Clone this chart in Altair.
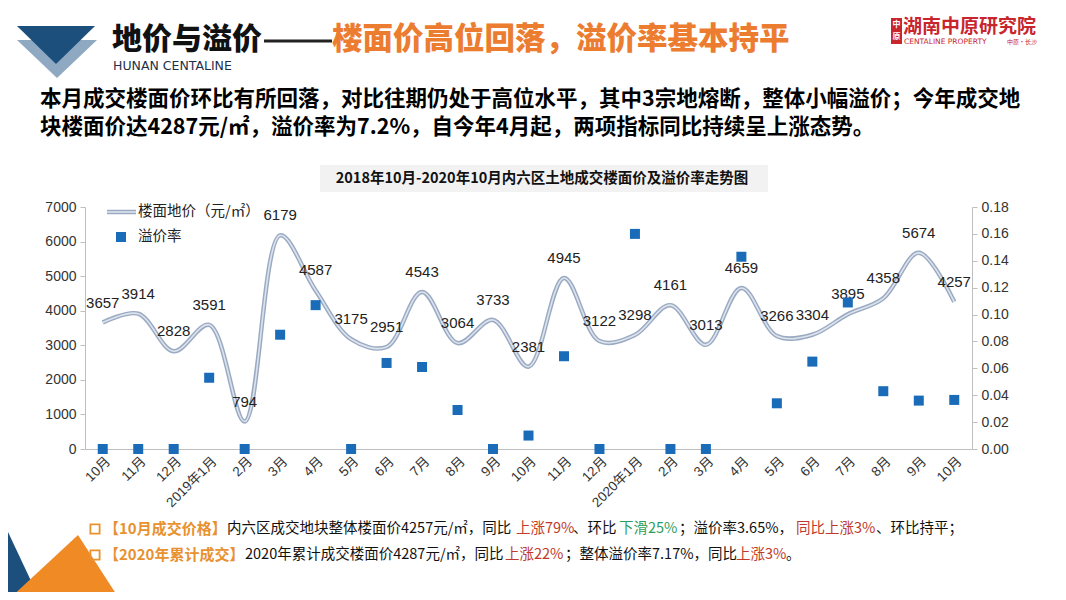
import altair as alt
import pandas as pd

# ---------------- data ----------------
months = ["10月", "11月", "12月", "2019年1月", "2月", "3月", "4月", "5月", "6月", "7月",
          "8月", "9月", "10月", "11月", "12月", "2020年1月", "2月", "3月", "4月", "5月",
          "6月", "7月", "8月", "9月", "10月"]
price = [3657, 3914, 2828, 3591, 794, 6179, 4587, 3175, 2951, 4543, 3064, 3733, 2381,
         4945, 3122, 3298, 4161, 3013, 4659, 3266, 3304, 3895, 4358, 5674, 4257]
premium = [0, 0, 0, 0.053, 0, 0.085, 0.107, 0, 0.064, 0.061, 0.029, 0, 0.010,
           0.069, 0, 0.160, 0, 0, 0.143, 0.034, 0.065, 0.109, 0.043, 0.036, 0.0365]
y_left_ticks = [0, 1000, 2000, 3000, 4000, 5000, 6000, 7000]
y_right_ticks = [round(k * 0.02, 2) for k in range(10)]

df = pd.DataFrame({"i": list(range(len(months))), "price": price, "premium": premium})
one = pd.DataFrame({"k": [0]})

# ---------------- layout ----------------
OX, OY = 85, 207          # page position of plot origin
W, H = 887, 242
CJK = "Noto Sans CJK SC"
LAT = "Liberation Sans, Noto Sans CJK SC"
BLUE = "#1a6bb8"
LINE_OUT = "#9aaac2"
LINE_IN = "#dce3ed"
ORANGE = "#ec7c30"
NOTE_OR = "#e8912f"
RED = "#c0392b"
GREEN = "#2e9e5e"


def text_mark(s, px, py, size, color="#000", weight="normal", align="left",
              font=CJK, baseline="middle"):
    return alt.Chart(one).mark_text(
        text=s, align=align, baseline=baseline, fontSize=size,
        fontWeight=weight, color=color, font=font
    ).encode(x=alt.value(px - OX), y=alt.value(py - OY))


def poly(points, color):
    path = "M" + " L".join(f"{x - OX},{y - OY}" for x, y in points) + " Z"
    return alt.Chart(one).mark_point(
        shape=path, size=4, filled=True, color=color, opacity=1, strokeWidth=0
    ).encode(x=alt.value(0), y=alt.value(0))


def rect(x1, y1, x2, y2, color):
    return alt.Chart(one).mark_rect(color=color).encode(
        x=alt.value(x1 - OX), x2=alt.value(x2 - OX),
        y=alt.value(y1 - OY), y2=alt.value(y2 - OY))


def hrule(x1, x2, y, color, width):
    return alt.Chart(one).mark_rule(color=color, strokeWidth=width).encode(
        x=alt.value(x1 - OX), x2=alt.value(x2 - OX), y=alt.value(y - OY))


label_expr = "[" + ",".join("'%s'" % m for m in months) + "][datum.value]"

x_enc = alt.X("i:O", scale=alt.Scale(type="point", padding=0.5),
              axis=alt.Axis(title=None, labelExpr=label_expr, labelAngle=-45,
                            labelAlign="right", labelBaseline="top", ticks=False,
                            domainColor="#bfbfbf", labelFont=LAT, labelFontSize=13.5,
                            labelColor="#333", labelPadding=5))

yl = alt.Y("price:Q", scale=alt.Scale(domain=[0, 7000], nice=False),
           axis=alt.Axis(title=None, values=y_left_ticks, format="d", grid=False,
                         domainColor="#bfbfbf", tickColor="#bfbfbf", tickSize=5,
                         labelFont=LAT, labelFontSize=14, labelColor="#333",
                         labelPadding=4))

yr = alt.Y("premium:Q", scale=alt.Scale(domain=[0, 0.18], nice=False),
           axis=alt.Axis(orient="right", title=None, values=y_right_ticks,
                         format=".2f", grid=False, domainColor="#bfbfbf",
                         tickColor="#bfbfbf", tickSize=5, labelFont=LAT,
                         labelFontSize=14, labelColor="#333", labelPadding=4))

base = alt.Chart(df)

line_outer = base.mark_line(interpolate="catmull-rom", color=LINE_OUT,
                            strokeWidth=4.5).encode(x=x_enc, y=yl)
line_inner = base.mark_line(interpolate="catmull-rom", color=LINE_IN,
                            strokeWidth=1.6).encode(x=x_enc, y=yl)
labels = base.mark_text(dy=-20, fontSize=15, font=LAT, color="#222").encode(
    x=x_enc, y=yl, text=alt.Text("price:Q", format="d"))
squares = base.mark_point(shape="square", filled=True, size=100, color=BLUE,
                          opacity=1).encode(x=x_enc, y=yr)

# ---------------- decorations & texts ----------------
decor = [
    # header triangles
    poly([(17, 40), (97, 40), (57, 78)], "#8ea9c1"),
    poly([(17, 26), (95, 26), (56, 64)], "#1d4f7c"),
    # bottom-left shapes
    poly([(0, 515), (40, 600), (0, 600)], "#1d4f7c"),
    poly([(8, 600), (78, 535), (120, 600)], "#f08a24"),
    # header
    text_mark("地价与溢价", 112, 40, 30, "#111", 900),
    hrule(264, 332, 41, "#222", 3),
    text_mark("楼面价高位回落，溢价率基本持平", 332, 40, 30.5, ORANGE, 900),
    text_mark("HUNAN  CENTALINE", 113, 66, 12.5, "#1d2f4a", "normal", font="DejaVu Sans"),
    # logo
    rect(891, 18, 902, 44, "#c9252c"),
    text_mark("中", 896.5, 25, 8, "#fff", "bold", "center"),
    text_mark("原", 896.5, 37, 8, "#fff", "bold", "center"),
    text_mark("湖南中原研究院", 903, 27, 19, "#c9252c", "bold"),
    text_mark("CENTALINE PROPERTY", 904, 42, 7.5, "#c9252c", "normal", font="DejaVu Sans"),
    text_mark("中原·长沙", 1037, 42, 6, "#c9252c", "normal", "right"),
    # paragraph
    text_mark("本月成交楼面价环比有所回落，对比往期仍处于高位水平，其中3宗地熔断，整体小幅溢价；今年成交地",
              40, 100, 21.5, "#000", "bold"),
    text_mark("块楼面价达4287元/㎡，溢价率为7.2%，自今年4月起，两项指标同比持续呈上涨态势。",
              40, 128, 21.5, "#000", "bold"),
    # chart title
    rect(320, 165, 768, 192, "#f2f2f2"),
    text_mark("2018年10月-2020年10月内六区土地成交楼面价及溢价率走势图", 542, 179, 14.5,
              "#111", "bold", "center"),
    # legend
    hrule(107, 136, 212, LINE_OUT, 4.5),
    hrule(107, 136, 212, LINE_IN, 1.6),
    text_mark("楼面地价（元/㎡）", 138, 212, 14.5, "#222"),
    alt.Chart(one).mark_point(shape="square", filled=True, size=100, color=BLUE,
                              opacity=1).encode(x=alt.value(121 - OX), y=alt.value(237 - OY)),
    text_mark("溢价率", 138, 237, 14.5, "#222"),
    # bottom notes line 1
    alt.Chart(one).mark_point(shape="square", filled=False, size=85, color=NOTE_OR,
                              strokeWidth=1.8, opacity=1).encode(
        x=alt.value(95 - OX), y=alt.value(529 - OY)),
    text_mark("【10月成交价格】", 104, 529, 15, NOTE_OR, "bold"),
    text_mark("内六区成交地块整体楼面价4257元/㎡，同比", 227, 529, 14.5, "#111"),
    text_mark("上涨79%", 516, 529, 14.5, RED),
    text_mark("、环比", 573, 529, 14.5, "#111"),
    text_mark("下滑25%", 619, 529, 14.5, GREEN),
    text_mark("；溢价率3.65%，", 679, 529, 14.5, "#111"),
    text_mark("同比上涨3%", 796, 529, 14.5, RED),
    text_mark("、环比持平；", 876, 529, 14.5, "#111"),
    # bottom notes line 2
    alt.Chart(one).mark_point(shape="square", filled=False, size=85, color=NOTE_OR,
                              strokeWidth=1.8, opacity=1).encode(
        x=alt.value(95 - OX), y=alt.value(555 - OY)),
    text_mark("【2020年累计成交】", 104, 555, 15, NOTE_OR, "bold"),
    text_mark("2020年累计成交楼面价4287元/㎡，同比", 245, 555, 14.5, "#111"),
    text_mark("上涨22%", 505, 555, 14.5, RED),
    text_mark("；整体溢价率7.17%，同比", 565, 555, 14.5, "#111"),
    text_mark("上涨3%", 736, 555, 14.5, RED),
    text_mark("。", 786, 555, 14.5, "#111"),
]

left = alt.layer(*decor, line_outer, line_inner, labels)
chart = alt.layer(left, squares).resolve_scale(y="independent").properties(
    width=W, height=H,
    autosize=alt.AutoSizeParams(type="none"),
    padding={"left": OX - 8, "top": OY - 8, "right": 1066 - 16 - (OX - 8) - W,
             "bottom": 600 - 16 - (OY - 8) - H},
    background="white",
).configure_view(stroke=None)

chart.save("out.html", embed_options={"renderer": "svg", "actions": False})
